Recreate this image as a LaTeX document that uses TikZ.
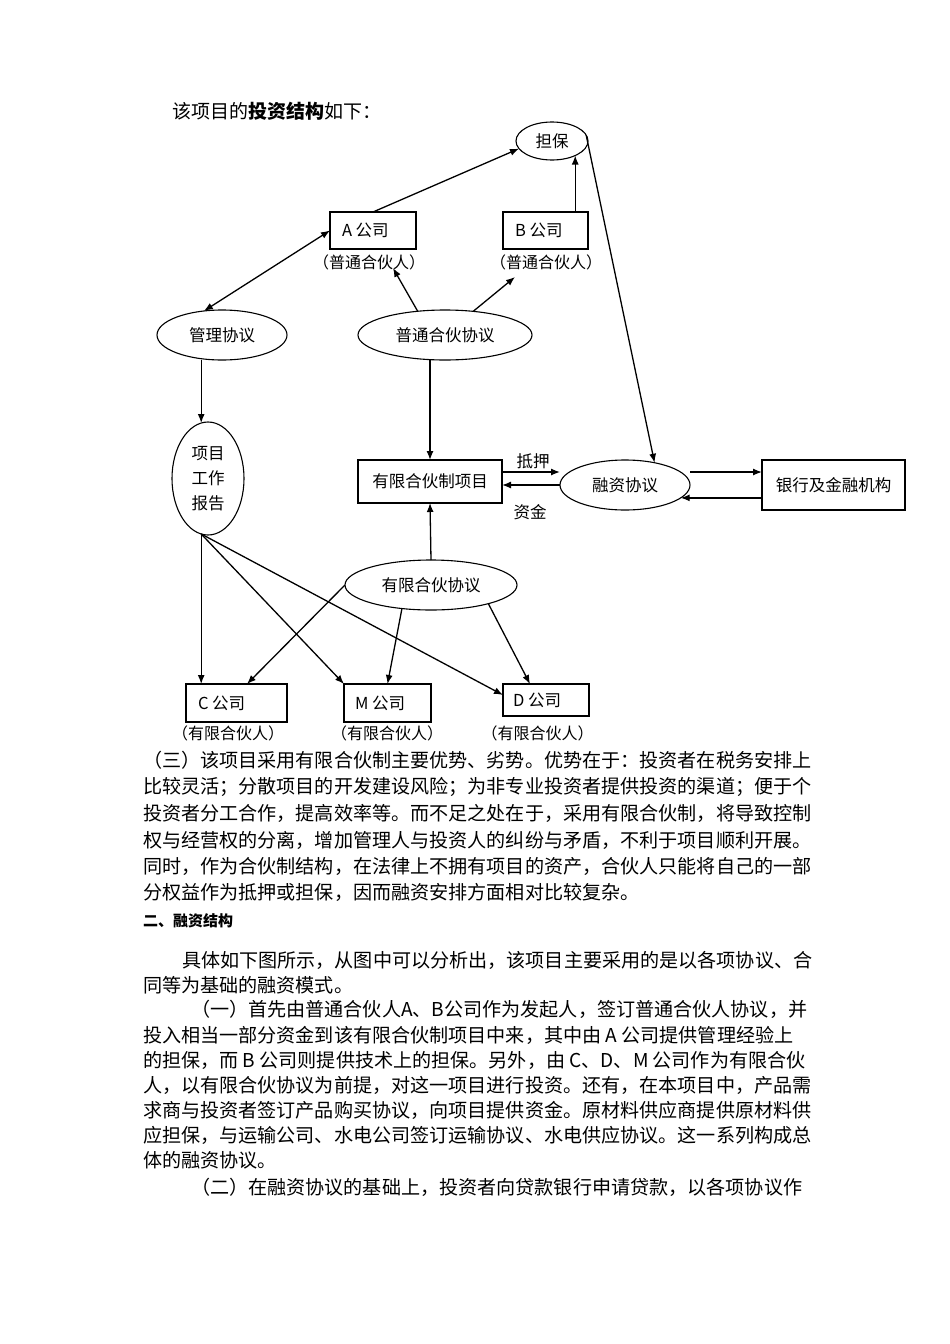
\documentclass[tikz,border=0pt]{standalone}
\usepackage{fontspec}
\setmainfont{Noto Sans CJK SC}
\usetikzlibrary{arrows.meta,shapes.geometric}
\newcommand\dgf{\fontsize{16.5}{25}\selectfont}
\newcommand\sbf{\fontsize{16}{16}\selectfont}
\newcommand\bdf{\fontsize{19.1}{19.1}\selectfont}
\newcommand\hdf{\fontsize{15}{15}\selectfont}
\begin{document}
\begin{tikzpicture}[x=1pt,y=-1pt,
  every node/.style={inner sep=0pt,outer sep=0pt},
  ln/.style={line width=1.3pt},
  arr/.style={ln,-{Latex[length=9pt,width=7pt]}},
  darr/.style={ln,{Latex[length=9pt,width=7pt]}-{Latex[length=9pt,width=7pt]}},
  ell/.style={draw,ellipse,line width=1.1pt,font=\dgf},
  box/.style={draw,rectangle,line width=1.2pt,font=\dgf},
  sub/.style={font=\sbf},
  lbl/.style={font=\dgf},
  body/.style={anchor=west,font=\bdf},
]
\useasboundingbox[fill=white] (0,0) rectangle (950,1344);

% title
\node[anchor=west,font=\fontsize{19}{19}\selectfont] (title) at (172,111) {该项目的\textbf{投资结构}如下：};

% nodes
\node[ell,minimum width=72pt,minimum height=38pt] (db) at (552,141) {担保};
\node[box,minimum width=86pt,minimum height=37pt] (A) at (373,230.5) {\makebox[62pt][l]{A 公司}};
\node[box,minimum width=85pt,minimum height=37pt] (B) at (545.5,230.5) {\makebox[61pt][l]{B 公司}};
\node[sub] (Alab) at (369,262) {（普通合伙人）};
\node[sub] (Blab) at (546,262) {（普通合伙人）};
\node[ell,minimum width=130pt,minimum height=50pt] (gl) at (222,335) {管理协议};
\node[ell,minimum width=174pt,minimum height=50pt] (pt) at (445,335) {普通合伙协议};
\node[ell,minimum width=72pt,minimum height=113pt,align=center] (rp) at (208,478.5) {项目\\工作\\报告};
\node[box,minimum width=144pt,minimum height=43pt] (pj) at (430,481.5) {有限合伙制项目};
\node[ell,minimum width=130pt,minimum height=50pt] (rz) at (625,485) {融资协议};
\node[box,minimum width=143pt,minimum height=50pt] (bk) at (833.5,485) {银行及金融机构};
\node[lbl] (dy) at (533,461) {抵押};
\node[lbl] (zj) at (530,512) {资金};
\node[ell,minimum width=172pt,minimum height=50pt] (lp) at (431,585) {有限合伙协议};
\node[box,minimum width=101pt,minimum height=38pt] (C) at (236.5,703) {\makebox[77pt][l]{C 公司}};
\node[box,line width=1.8pt,minimum width=87pt,minimum height=38pt] (M) at (387.5,703) {\makebox[65pt][l]{M 公司}};
\node[box,minimum width=86pt,minimum height=32pt] (D) at (546,700) {\makebox[66pt][l]{D 公司}};
\node[sub] (Clab) at (228,733) {（有限合伙人）};
\node[sub] (Mlab) at (387,733) {（有限合伙人）};
\node[sub] (Dlab) at (537.5,733) {（有限合伙人）};

% connectors
\draw[arr] (A.north) -- (db.193);
\draw[arr] (db.-32 |- B.north) -- (db.-32);
\draw[arr] (db.10) -- (rz.37);
\draw[darr] (A.west) -- (gl.127);
\draw[arr] (pt.139) -- ([xshift=24pt,yshift=-6pt]Alab.center);
\draw[arr] (pt.40) -- ([xshift=-31pt,yshift=-15pt]Blab.center);
\draw[arr] (pt.south -| pj.north) -- (pj.north);
\draw[arr] (gl.south -| rp.97) -- (rp.97);
\draw[arr] ([yshift=9.5pt]pj.east) -- ([yshift=9.5pt]pj.east -| rz.west);
\draw[arr] (rz.west) -- (rz.west -| pj.east);
\draw[arr] ([yshift=13pt]rz.east) -- ([yshift=13pt]rz.east -| bk.west);
\draw[arr] (rz.-13 -| bk.west) -- (rz.-13);
\draw[arr] (lp.north) -- (pj.south);
\draw[arr] (rp.263) -- (rp.263 |- C.north);
\draw[arr] (rp.263) -- (M.north west);
\draw[arr] (rp.263) -- ([yshift=5pt]D.west);
\draw[arr] (lp.west) -- ([xshift=10.5pt]C.north);
\draw[arr] (lp.219) -- (M.north);
\draw[arr] (lp.-18) -- ([xshift=-16pt]D.north);

% body text
\node[body] (l1) at (143,760) {（三）该项目采用有限合伙制主要优势、劣势。优势在于：投资者在税务安排上};
\node[body] (l2) at (143,787) {比较灵活；分散项目的开发建设风险；为非专业投资者提供投资的渠道；便于个};
\node[body] (l3) at (143,813) {投资者分工合作，提高效率等。而不足之处在于，采用有限合伙制，将导致控制};
\node[body] (l4) at (143,840) {权与经营权的分离，增加管理人与投资人的纠纷与矛盾，不利于项目顺利开展。};
\node[body] (l5) at (143,866) {同时，作为合伙制结构，在法律上不拥有项目的资产，合伙人只能将自己的一部};
\node[body] (l6) at (143,892) {分权益作为抵押或担保，因而融资安排方面相对比较复杂。};
\node[anchor=west,font=\hdf] (h2) at (143,921) {\textbf{二、融资结构}};
\node[body] (p1) at (182,960) {具体如下图所示，从图中可以分析出，该项目主要采用的是以各项协议、合};
\node[body] (p2) at (143,985) {同等为基础的融资模式。};
\node[body] (p3) at (191,1009) {（一）首先由普通合伙人A、B公司作为发起人，签订普通合伙人协议，并};
\node[body] (p4) at (143,1035) {投入相当一部分资金到该有限合伙制项目中来，其中由 A 公司提供管理经验上};
\node[body] (p5) at (143,1060) {的担保，而 B 公司则提供技术上的担保。另外，由 C、D、M 公司作为有限合伙};
\node[body] (p6) at (143,1085) {人，以有限合伙协议为前提，对这一项目进行投资。还有，在本项目中，产品需};
\node[body] (p7) at (143,1110) {求商与投资者签订产品购买协议，向项目提供资金。原材料供应商提供原材料供};
\node[body] (p8) at (143,1135) {应担保，与运输公司、水电公司签订运输协议、水电供应协议。这一系列构成总};
\node[body] (p9) at (143,1160) {体的融资协议。};
\node[body] (p10) at (191,1187) {（二）在融资协议的基础上，投资者向贷款银行申请贷款，以各项协议作};
\end{tikzpicture}
\end{document}
